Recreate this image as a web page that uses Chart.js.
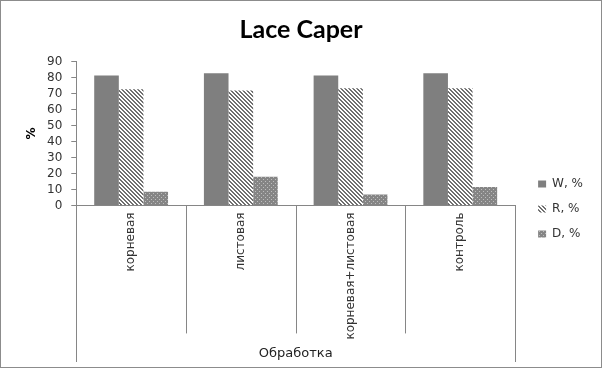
<!DOCTYPE html>
<html>
<head>
<meta charset="utf-8">
<script src="https://cdn.jsdelivr.net/npm/chart.js@4"></script>
<style>
    html, body { margin: 0; padding: 0; background: #fff; }
    #wrap { width: 602px; height: 368px; box-sizing: border-box; border: 1px solid #8c8c8c; }
    canvas { display: block; }
</style>
</head>
<body>
<div id="wrap"><canvas id="chart" width="600" height="366"></canvas></div>
<script>
// Data
const categories = ['корневая', 'листовая', 'корневая+листовая', 'контроль'];
const seriesNames = ['W, %', 'R, %', 'D, %'];
const valuesW = [81.3, 82.8, 81.3, 82.8];
const valuesR = [72.7, 72.0, 73.3, 73.4];
const valuesD = [8.5, 18.0, 6.9, 11.5];
const yMin = 0, yMax = 90, yStep = 10;

Chart.defaults.font.family = 'DejaVu Sans';
Chart.defaults.font.size = 12;
Chart.defaults.color = '#333';

const axisColor = '#868686';
const canvas = document.getElementById('chart');
const ctx = canvas.getContext('2d');

// hatched fill for R (\\\ stripes)
function makeHatch() {
    const t = document.createElement('canvas');
    t.width = 4; t.height = 4;
    const c = t.getContext('2d');
    c.fillStyle = '#fff';
    c.fillRect(0, 0, 4, 4);
    c.fillStyle = '#707070';
    for (let i = 0; i < 4; i++) {
        c.fillRect(i, i, 1, 1);
        c.fillRect((i + 1) % 4, i, 1, 1);
    }
    return ctx.createPattern(t, 'repeat');
}

// dotted fill for D
function makeDots() {
    const t = document.createElement('canvas');
    t.width = 4; t.height = 4;
    const c = t.getContext('2d');
    c.fillStyle = '#858585';
    c.fillRect(0, 0, 4, 4);
    c.fillStyle = '#bdbdbd';
    c.fillRect(0, 0, 1, 1);
    c.fillRect(2, 2, 1, 1);
    return ctx.createPattern(t, 'repeat');
}

// category separators below the axis (Excel style multi-level axis)
const categoryLines = {
    id: 'categoryLines',
    afterDraw(chart) {
        const x = chart.scales.x;
        const n = chart.data.labels.length;
        const half = (x.getPixelForValue(1) - x.getPixelForValue(0)) / 2;
        const c = chart.ctx;
        c.save();
        c.strokeStyle = axisColor;
        c.lineWidth = 1;
        c.beginPath();
        for (let i = 0; i <= n; i++) {
            const px = Math.round(x.getPixelForValue(i) - half) + 0.5;
            const outer = (i === 0 || i === n);
            c.moveTo(px, x.top);
            c.lineTo(px, outer ? x.bottom + 2 : x.top + 128);
        }
        c.stroke();
        c.restore();
    }
};

new Chart(ctx, {
    type: 'bar',
    data: {
        labels: categories,
        datasets: [
            { label: seriesNames[0], data: valuesW, backgroundColor: '#7f7f7f', borderWidth: 0 },
            { label: seriesNames[1], data: valuesR, backgroundColor: makeHatch(), borderWidth: 0 },
            { label: seriesNames[2], data: valuesD, backgroundColor: makeDots(), borderWidth: 0 }
        ]
    },
    options: {
        responsive: false,
        animation: false,
        layout: { padding: { left: 8, right: 8, top: 0, bottom: 7 } },
        datasets: {
            bar: { categoryPercentage: 0.673, barPercentage: 1.0 }
        },
        plugins: {
            title: {
                display: true,
                text: 'Lace Caper',
                color: '#000',
                font: { family: 'Lato', size: 25, weight: 'bold' },
                padding: { top: 14, bottom: 16.7 }
            },
            legend: {
                position: 'right',
                align: 'center',
                title: { display: true, text: '', padding: { top: 42.6, bottom: 0 } },
                labels: {
                    boxWidth: 8,
                    boxHeight: 7,
                    padding: 13,
                    color: '#333',
                    font: { size: 12 }
                }
            },
            tooltip: { enabled: false }
        },
        scales: {
            x: {
                border: { display: true, color: axisColor },
                grid: {
                    offset: true,
                    drawOnChartArea: false,
                    drawTicks: false
                },
                ticks: {
                    autoSkip: false,
                    minRotation: 90,
                    maxRotation: 90,
                    padding: 7,
                    color: '#333',
                    font: { size: 12 }
                },
                title: {
                    display: true,
                    text: 'Обработка',
                    color: '#222',
                    font: { size: 13, lineHeight: 1 },
                    padding: { top: 0.4, bottom: 0 }
                }
            },
            y: {
                min: yMin,
                max: yMax,
                border: { display: true, color: axisColor },
                grid: {
                    drawOnChartArea: false,
                    drawTicks: true,
                    tickLength: 5,
                    color: axisColor
                },
                ticks: {
                    stepSize: yStep,
                    autoSkip: false,
                    padding: 9,
                    color: '#333',
                    font: { size: 12 }
                },
                title: {
                    display: true,
                    text: '%',
                    color: '#000',
                    font: { size: 12, weight: 'bold', lineHeight: 1 },
                    padding: { top: 17, bottom: 0 }
                }
            },
            gap: {
                type: 'linear',
                position: 'right',
                display: true,
                grid: { display: false, drawTicks: false },
                border: { display: false },
                ticks: { display: false },
                afterFit(scale) { scale.width = 10; }
            }
        }
    },
    plugins: [categoryLines]
});
</script>
</body>
</html>
